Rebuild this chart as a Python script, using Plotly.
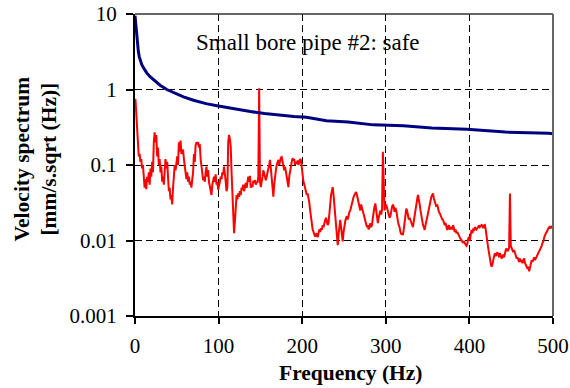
import numpy as np
import plotly.graph_objects as go

# Blue reference curve (limit line)
blue_f = [0, 1, 2, 3, 4, 5, 6, 8, 10, 14, 18, 25, 30, 38, 48, 58, 70, 85, 98, 115, 138, 155, 177,
          190, 205, 229, 255, 285, 321, 355, 397, 443, 495, 500]
blue_v = [9.5, 7.0, 5.3, 3.9, 3.2, 2.75, 2.45, 2.15, 1.95, 1.66, 1.48, 1.25, 1.14, 1.0, 0.89, 0.8,
          0.72, 0.65, 0.61, 0.56, 0.51, 0.48, 0.45, 0.44, 0.43, 0.386, 0.37, 0.34, 0.33, 0.31,
          0.297, 0.273, 0.263, 0.259]

# Red measured spectrum, 1 Hz bins
red_0_100 = [
    0.75, 0.45, 0.3, 0.2, 0.13, 0.14, 0.11, 0.12, 0.09, 0.1,
    0.07, 0.05, 0.065, 0.048, 0.07, 0.06, 0.08, 0.055, 0.09, 0.07,
    0.11, 0.08, 0.2, 0.27, 0.2, 0.25, 0.13, 0.17, 0.1, 0.12,
    0.08, 0.095, 0.06, 0.07, 0.055, 0.09, 0.12, 0.09, 0.11, 0.07,
    0.045, 0.05, 0.035, 0.04, 0.03, 0.05, 0.09, 0.1, 0.085, 0.1,
    0.13, 0.1, 0.2, 0.15, 0.21, 0.14, 0.15, 0.16, 0.12, 0.09,
    0.075, 0.065, 0.08, 0.06, 0.07, 0.055, 0.06, 0.05, 0.065, 0.08,
    0.14, 0.11, 0.18, 0.2, 0.19, 0.2, 0.17, 0.19, 0.12, 0.1,
    0.075, 0.063, 0.07, 0.06, 0.08, 0.095, 0.07, 0.086, 0.06, 0.05,
    0.045, 0.04, 0.055, 0.065, 0.07, 0.06, 0.075, 0.055, 0.06, 0.047]
red_100_200 = [
    0.052, 0.06, 0.07, 0.065, 0.08, 0.075, 0.095, 0.08, 0.06, 0.045,
    0.05, 0.2, 0.25, 0.22, 0.175, 0.08, 0.038, 0.02, 0.0125, 0.018,
    0.031, 0.04, 0.035, 0.042, 0.038, 0.045, 0.04, 0.05, 0.047, 0.055,
    0.045, 0.051, 0.058, 0.05, 0.065, 0.07, 0.06, 0.072, 0.05, 0.055,
    0.051, 0.062, 0.058, 0.063, 0.055, 0.06, 0.058, 0.07, 1.04, 0.06,
    0.051, 0.065, 0.07, 0.085, 0.075, 0.065, 0.063, 0.07, 0.085, 0.09,
    0.1, 0.117, 0.09, 0.06, 0.045, 0.038, 0.055, 0.078, 0.085, 0.1,
    0.11, 0.117, 0.1, 0.115, 0.125, 0.127, 0.11, 0.1, 0.085, 0.095,
    0.08, 0.07, 0.06, 0.051, 0.07, 0.085, 0.1, 0.11, 0.123, 0.115,
    0.12, 0.1, 0.11, 0.105, 0.115, 0.1, 0.11, 0.12, 0.115, 0.09]
red_200_300 = [
    0.07, 0.06, 0.055, 0.05, 0.048, 0.04, 0.042, 0.038, 0.032, 0.025,
    0.02, 0.017, 0.014, 0.013, 0.0115, 0.0112, 0.012, 0.0125, 0.011, 0.0125,
    0.014, 0.013, 0.0145, 0.0138, 0.016, 0.015, 0.018, 0.0187, 0.02, 0.017,
    0.016, 0.017, 0.025, 0.03, 0.04, 0.045, 0.051, 0.04, 0.03, 0.021,
    0.017, 0.013, 0.0087, 0.012, 0.016, 0.0187, 0.015, 0.012, 0.0097, 0.013,
    0.016, 0.018, 0.02, 0.021, 0.019, 0.022, 0.024, 0.025, 0.028, 0.032,
    0.035, 0.038, 0.04, 0.042, 0.044, 0.04, 0.036, 0.032, 0.028, 0.025,
    0.03, 0.027, 0.024, 0.023, 0.02, 0.018, 0.016, 0.015, 0.016, 0.014,
    0.015, 0.017, 0.015, 0.016, 0.02, 0.025, 0.028, 0.031, 0.025, 0.02,
    0.017, 0.02, 0.023, 0.025, 0.022, 0.026, 0.15, 0.03, 0.025, 0.028]
red_300_400 = [
    0.03, 0.027, 0.025, 0.022, 0.02, 0.021, 0.025, 0.028, 0.03, 0.028,
    0.024, 0.027, 0.025, 0.02, 0.018, 0.016, 0.015, 0.013, 0.012, 0.0125,
    0.0118, 0.014, 0.018, 0.022, 0.0265, 0.025, 0.021, 0.019, 0.02, 0.0187,
    0.017, 0.016, 0.015, 0.018, 0.022, 0.026, 0.03, 0.035, 0.04, 0.036,
    0.03, 0.025, 0.021, 0.019, 0.016, 0.015, 0.0138, 0.016, 0.019, 0.021,
    0.023, 0.026, 0.03, 0.035, 0.038, 0.04, 0.042, 0.036, 0.033, 0.03,
    0.028, 0.03, 0.026, 0.024, 0.023, 0.021, 0.02, 0.019, 0.0187, 0.017,
    0.016, 0.017, 0.015, 0.0138, 0.015, 0.016, 0.014, 0.0145, 0.015, 0.014,
    0.016, 0.0145, 0.013, 0.014, 0.0125, 0.013, 0.012, 0.0118, 0.011, 0.0105,
    0.01, 0.0095, 0.0093, 0.0098, 0.009, 0.0088, 0.0085, 0.009, 0.0105, 0.0112]
red_400_500 = [
    0.01, 0.012, 0.0138, 0.0125, 0.014, 0.0138, 0.015, 0.0145, 0.014, 0.0145,
    0.015, 0.0158, 0.015, 0.0155, 0.016, 0.0158, 0.0145, 0.0158, 0.016, 0.014,
    0.0105, 0.0095, 0.008, 0.0065, 0.0055, 0.005, 0.0045, 0.0048, 0.0055, 0.006,
    0.0068, 0.0062, 0.0066, 0.007, 0.0065, 0.006, 0.0068, 0.0064, 0.0058, 0.006,
    0.0065, 0.006, 0.007, 0.0075, 0.0078, 0.0072, 0.0075, 0.008, 0.042, 0.0085,
    0.008, 0.0075, 0.007, 0.0075, 0.0068, 0.0062, 0.0058, 0.006, 0.0055, 0.0052,
    0.0058, 0.0052, 0.0055, 0.005, 0.0055, 0.0058, 0.005, 0.0048, 0.0045, 0.0042,
    0.0045, 0.0039, 0.0045, 0.005, 0.0055, 0.0052, 0.0055, 0.006, 0.0055, 0.0058,
    0.0062, 0.0065, 0.0068, 0.0071, 0.0075, 0.008, 0.0085, 0.0093, 0.0098, 0.011,
    0.012, 0.0125, 0.013, 0.014, 0.0145, 0.015, 0.0145, 0.0155, 0.015, 0.0145]

red_v = red_0_100 + red_100_200 + red_200_300 + red_300_400 + red_400_500
red_f = list(np.arange(len(red_v)) + 0.5)

x_ticks = [0, 100, 200, 300, 400, 500]
y_ticks = [0.001, 0.01, 0.1, 1, 10]
y_tick_text = ["0.001", "0.01", "0.1", "1", "10"]

FONT = "Liberation Serif"
GRID_DASH = "7px,4px"

fig = go.Figure()
fig.add_trace(go.Scatter(x=red_f, y=red_v, mode="lines",
                         line=dict(color="#FF0000", width=2), showlegend=False))
fig.add_trace(go.Scatter(x=blue_f, y=blue_v, mode="lines",
                         line=dict(color="#000080", width=3), showlegend=False))

fig.update_layout(
    width=570, height=388,
    margin=dict(l=135, r=17, t=14, b=72),
    paper_bgcolor="white", plot_bgcolor="white",
    font=dict(family=FONT, size=21, color="black"),
    xaxis=dict(range=[0, 500], tickvals=x_ticks, ticks="outside", ticklen=6,
               tickwidth=1.5, tickcolor="black", showline=True, linecolor="black",
               linewidth=2, showgrid=True, gridcolor="black", griddash=GRID_DASH,
               gridwidth=1, zeroline=False, automargin=False, ticklabelstandoff=4,
               tickfont=dict(family=FONT, size=21)),
    yaxis=dict(type="log", range=[-3, 1], tickvals=y_ticks, ticktext=y_tick_text,
               ticks="outside", ticklen=7, tickwidth=1.5, tickcolor="black",
               showline=True, linecolor="black", linewidth=2, showgrid=True,
               gridcolor="black", griddash=GRID_DASH, gridwidth=1, zeroline=False,
               automargin=False, ticklabelstandoff=5,
               tickfont=dict(family=FONT, size=21)),
    annotations=[
        dict(text="Small bore pipe #2: safe", xref="paper", yref="paper",
             x=0.414, y=0.907, xanchor="center", yanchor="middle", showarrow=False,
             font=dict(family=FONT, size=23, color="black")),
        dict(text="<b>Frequency (Hz)</b>", xref="paper", yref="paper",
             x=0.516, y=-0.189, xanchor="center", yanchor="middle", showarrow=False,
             font=dict(family=FONT, size=21.5, color="black")),
        dict(text="<b>Velocity spectrum<br>[mm/s.sqrt (Hz)]</b>", xref="paper", yref="paper",
             x=-0.238, y=0.52, xanchor="center", yanchor="middle", showarrow=False,
             textangle=-90, font=dict(family=FONT, size=21.5, color="black")),
    ],
    shapes=[
        dict(type="line", xref="paper", yref="paper", x0=0, x1=1, y0=1, y1=1,
             line=dict(color="#333333", width=1.5)),
        dict(type="line", xref="paper", yref="paper", x0=1, x1=1, y0=0, y1=1,
             line=dict(color="#666666", width=2)),
    ],
)

fig.write_html("out.html")
